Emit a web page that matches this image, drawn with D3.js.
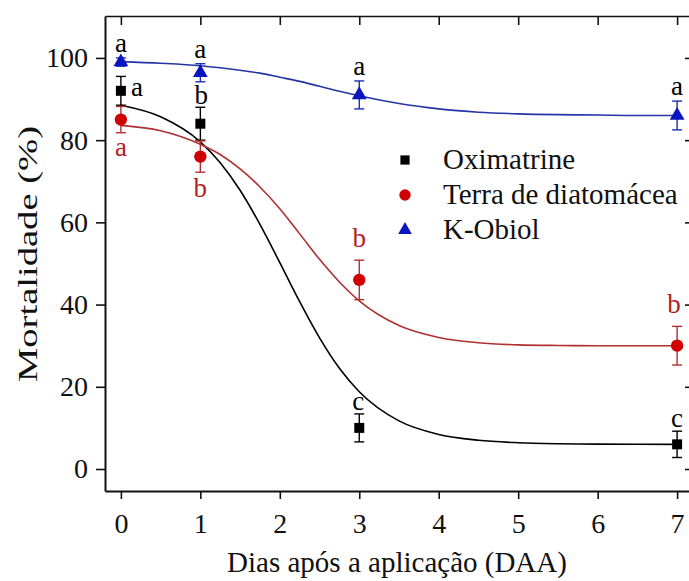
<!DOCTYPE html>
<html>
<head>
<meta charset="utf-8">
<script src="https://cdn.jsdelivr.net/npm/d3@7"></script>
<style>
  html, body { margin: 0; padding: 0; background: #fff; }
  svg { display: block; }
  text { font-family: 'Liberation Serif', 'Times New Roman', serif; }
</style>
</head>
<body>
<svg id="chart" width="689" height="581"></svg>
<script>
// ---------- data ----------
const days = [0, 1, 3, 7];
const seriesNames = ["Oximatrine", "Terra de diatomácea", "K-Obiol"];

const oxiMean = [92, 84, 10, 6];
const oxiErr = [3.5, 4, 3.4, 3.2];
const oxiLetters = ["a", "b", "c", "c"];

const terraMean = [85, 76, 46, 30];
const terraErr = [3.2, 3.8, 4.8, 4.7];
const terraLetters = ["a", "b", "b", "b"];

const kobMean = [99, 96.4, 91, 86];
const kobErr = [1.0, 2.2, 3.4, 3.5];
const kobLetters = ["a", "a", "a", "a"];

// fitted curves
const fitX = [0, 0.5, 1, 1.25, 1.5, 1.75, 2, 2.25, 2.5, 2.75, 3, 3.5, 4, 4.5, 5, 5.5, 6, 6.5, 7];
const oxiFit = [88.5, 85.7, 79.6, 74.5, 67.8, 59.5, 50.2, 40.7, 31.9, 24.5, 18.8, 11.7, 8.4, 7.0, 6.4, 6.15, 6.06, 6.02, 6.0];
const terraFit = [83.6, 82.3, 79.0, 76.5, 73.0, 68.6, 63.3, 57.2, 51.0, 45.5, 40.9, 34.9, 32.0, 30.7, 30.2, 30.05, 30.0, 30.0, 30.0];
const kobFit = [99.1, 98.7, 98.1, 97.6, 97.0, 96.3, 95.3, 94.3, 93.1, 91.9, 90.8, 88.9, 87.6, 86.8, 86.4, 86.2, 86.1, 86.0, 86.0];

const xTicks = [0, 1, 2, 3, 4, 5, 6, 7];
const yTicks = [0, 20, 40, 60, 80, 100];
const xTitle = "Dias após a aplicação (DAA)";
const yTitle = "Mortalidade (%)";

// ---------- layout ----------
const svg = d3.select("#chart");
const pL = 105, pR = 693, pT = 16, pB = 491;
const x = d3.scaleLinear().domain([-0.2, 7.2]).range([pL, pR]);
const y = d3.scaleLinear().domain([-5.35, 110.2]).range([pB, pT]);

const FS = 28;
const SERIF = "'Liberation Serif', 'Times New Roman', serif";

// axes
const gL = svg.append("g").attr("transform", `translate(${pL},0)`)
  .call(d3.axisLeft(y).tickValues(yTicks).tickSize(9).tickPadding(8).tickSizeOuter(0));
const gB = svg.append("g").attr("transform", `translate(0,${pB})`)
  .call(d3.axisBottom(x).tickValues(xTicks).tickSize(8).tickPadding(14).tickSizeOuter(0));
const gT = svg.append("g").attr("transform", `translate(0,${pT})`)
  .call(d3.axisBottom(x).tickValues(xTicks).tickSize(9).tickFormat("").tickSizeOuter(0));
const gR = svg.append("g").attr("transform", `translate(${pR},0)`)
  .call(d3.axisLeft(y).tickValues(yTicks).tickSize(8).tickFormat("").tickSizeOuter(0));

[gL, gB, gT, gR].forEach(g => {
  g.attr("font-family", SERIF);
  g.selectAll(".domain").attr("stroke", "#111").attr("stroke-width", 2);
  g.selectAll(".tick line").attr("stroke", "#111").attr("stroke-width", 1.6);
  g.selectAll(".tick text").attr("fill", "#111").style("font-size", FS + "px")
    .style("font-family", SERIF);
});
gT.select(".domain").attr("stroke-width", 1.6);
gR.select(".domain").attr("stroke-width", 1.6);

// axis titles
svg.append("text").attr("x", 397).attr("y", 572)
  .attr("text-anchor", "middle").style("font-size", "29px").style("font-family", SERIF)
  .attr("fill", "#111").text(xTitle);
svg.append("text").attr("transform", `translate(37,254) rotate(-90)`)
  .attr("text-anchor", "middle").style("font-size", FS + "px").style("font-family", SERIF)
  .attr("fill", "#111")
  .attr("textLength", 256).attr("lengthAdjust", "spacingAndGlyphs")
  .text(yTitle);

// ---------- series ----------
const series = [
  { name: seriesNames[0], mean: oxiMean, err: oxiErr, fit: oxiFit, letters: oxiLetters,
    marker: "#000", line: "#000", bar: "#000", letterColor: "#000", shape: d3.symbolSquare, size: 100,
    place: [{dx: 16, dy: 0, ref: "center"}, {dx: 1, dy: -3, ref: "top"}, {dx: -1, dy: -4, ref: "top"}, {dx: 0, dy: -4, ref: "top"}] },
  { name: seriesNames[1], mean: terraMean, err: terraErr, fit: terraFit, letters: terraLetters,
    marker: "#d00000", line: "#b03030", bar: "#b03030", letterColor: "#b42020", shape: d3.symbolCircle, size: 120,
    place: [{dx: 0, dy: 23, ref: "bottom"}, {dx: 0, dy: 25, ref: "bottom"}, {dx: 0, dy: -13, ref: "top"}, {dx: -3, dy: -13, ref: "top"}] },
  { name: seriesNames[2], mean: kobMean, err: kobErr, fit: kobFit, letters: kobLetters,
    marker: "#0a14c0", line: "#2535a5", bar: "#1a30b0", letterColor: "#000", shape: d3.symbolTriangle, size: 95,
    place: [{dx: 0, dy: -6, ref: "top"}, {dx: 0, dy: -6, ref: "top"}, {dx: 0, dy: -6, ref: "top"}, {dx: 0, dy: -6, ref: "top"}] }
];

const lineGen = d3.line().x(d => x(d[0])).y(d => y(d[1])).curve(d3.curveMonotoneX);

series.forEach(s => {
  svg.append("path").datum(fitX.map((v, i) => [v, s.fit[i]]))
    .attr("d", lineGen).attr("fill", "none").attr("stroke", s.line).attr("stroke-width", 1.6);
});

series.forEach(s => {
  const g = svg.append("g");
  days.forEach((d, i) => {
    const cx = x(d), yt = y(s.mean[i] + s.err[i]), yb = y(s.mean[i] - s.err[i]);
    g.append("line").attr("x1", cx).attr("x2", cx).attr("y1", yt).attr("y2", yb)
      .attr("stroke", s.bar).attr("stroke-width", 1.4);
    [yt, yb].forEach(yy => g.append("line").attr("x1", cx - 5).attr("x2", cx + 5)
      .attr("y1", yy).attr("y2", yy).attr("stroke", s.bar).attr("stroke-width", 1.4));
    g.append("path").attr("d", d3.symbol().type(s.shape).size(s.size)())
      .attr("transform", `translate(${cx},${y(s.mean[i])})`).attr("fill", s.marker);
  });
});

// letters
series.forEach(s => {
  days.forEach((d, i) => {
    const p = s.place[i];
    let by;
    if (p.ref === "top") by = y(s.mean[i] + s.err[i]) + p.dy;
    else if (p.ref === "bottom") by = y(s.mean[i] - s.err[i]) + p.dy;
    else by = y(s.mean[i]) + 5;
    svg.append("text").attr("x", x(d) + p.dx).attr("y", by)
      .attr("text-anchor", "middle").style("font-size", "27px").style("font-family", SERIF)
      .attr("fill", s.letterColor).text(s.letters[i]);
  });
});

// legend
const legY = [160, 195, 230];
series.forEach((s, i) => {
  svg.append("path").attr("d", d3.symbol().type(s.shape).size(s.size * 0.85)())
    .attr("transform", `translate(405,${legY[i]})`).attr("fill", s.marker);
  svg.append("text").attr("x", 443).attr("y", legY[i] + 9)
    .style("font-size", "29px").style("font-family", SERIF)
    .attr("fill", "#111").text(s.name);
});
</script>
</body>
</html>
